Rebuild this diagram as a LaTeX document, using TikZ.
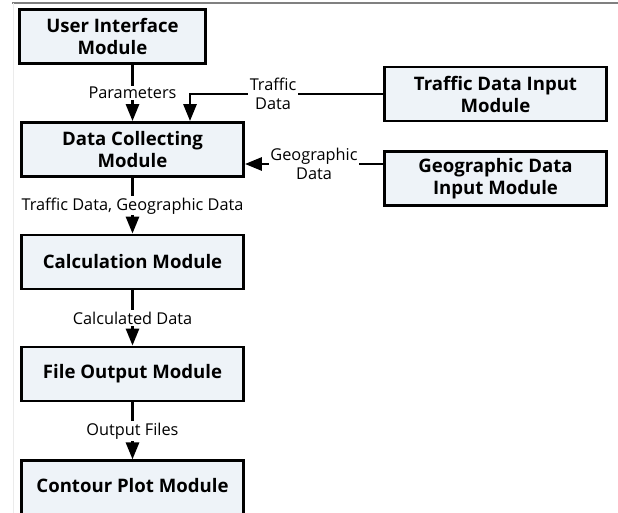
\documentclass[tikz,border=0pt]{standalone}
\usepackage{fontspec}
\setmainfont{Open Sans}
\usetikzlibrary{arrows.meta}
\definecolor{boxfill}{RGB}{238,243,248}
\definecolor{rulegray}{RGB}{128,128,128}
\tikzset{
  module/.style={draw=black, line width=2.8pt, fill=boxfill, inner sep=0pt,
    minimum width=222pt, minimum height=54pt, align=center,
    font=\fontsize{18.6}{22}\selectfont\bfseries},
  flow/.style={line width=2.8pt, -{Triangle[length=17pt,width=13pt]}},
  tag/.style={fill=white, inner sep=1.5pt, align=center,
    font=\fontsize{16.3}{18.5}\selectfont},
}
\begin{document}
\begin{tikzpicture}[x=1pt,y=-1pt]
\useasboundingbox (0,0) rectangle (618,513);
% page rules
\draw[rulegray, line width=1.2pt] (12,3) -- (618,3);
\draw[black!8, line width=0.8pt] (13,3) -- (13,513);

% main column
\node[module, minimum width=186pt] (ui) at (112.5,36.5) {User Interface\\Module};
\node[module] (dc) at (132.5,149.5) {Data Collecting\\Module};
\node[module] (calc) at (132.5,262) {Calculation Module};
\node[module] (fo) at (132.5,374) {File Output Module};
% last box runs off the page edge
\node[module, anchor=north, minimum height=66pt, text depth=17.5pt]
  (cp) at (132.5,459.4) {Contour Plot Module};

% input modules
\node[module] (ti) at (495.5,94) {Traffic Data Input\\Module};
\node[module] (gi) at (495.5,178.5) {Geographic Data\\Input Module};

% data flows
\draw[flow] (ui.south -| dc.north) -- node[tag, pos=0.5] {Parameters} (dc.north);
\coordinate (tdrop) at (190,0);
\draw[flow] (ti.west) -- node[tag, pos=0.57] {Traffic\\Data} (ti.west -| tdrop) -- (dc.north -| tdrop);
\coordinate (glevel) at (0,164);
\draw[flow] (gi.west |- glevel) -- node[tag, pos=0.5] {Geographic\\Data} (dc.east |- glevel);
\draw[flow] (dc.south) -- node[tag, pos=0.5] {Traffic Data, Geographic Data} (calc.north);
\draw[flow] (calc.south) -- node[tag, pos=0.5] {Calculated Data} (fo.north);
\draw[flow] (fo.south) -- node[tag, pos=0.5] {Output Files} (cp.north);
\end{tikzpicture}
\end{document}
